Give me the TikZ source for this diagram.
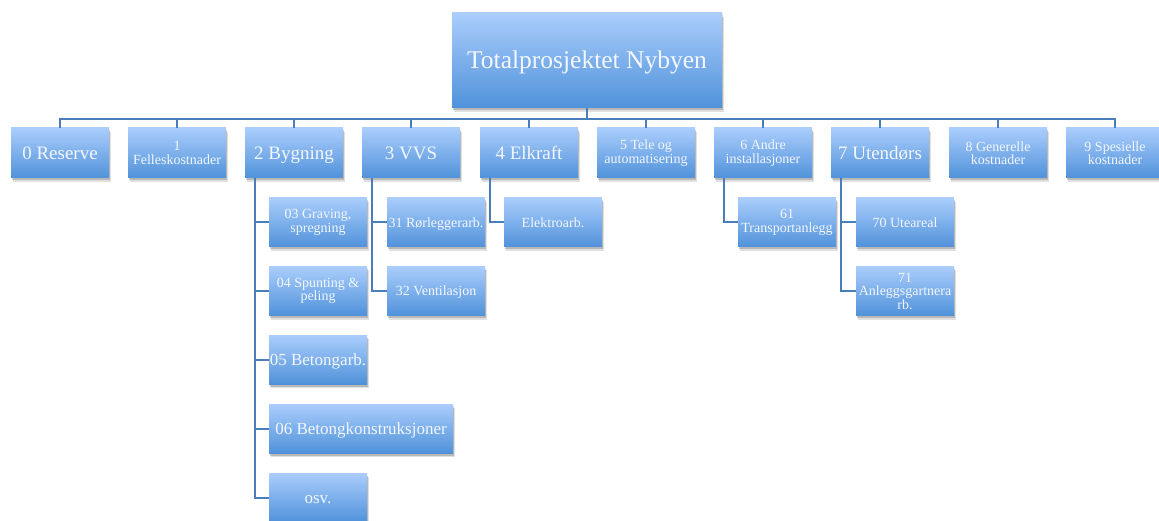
\documentclass[tikz,border=0pt]{standalone}
\usepackage{fontspec}
\setmainfont{Liberation Serif}
\usetikzlibrary{shadows}
\definecolor{topc}{RGB}{170,205,252}
\definecolor{botc}{RGB}{80,146,218}
\definecolor{linec}{RGB}{74,126,187}
\definecolor{txt}{RGB}{243,247,255}
\begin{document}
\begin{tikzpicture}[x=1pt,y=-1pt,
  box/.style={rectangle, top color=topc, bottom color=botc, draw=none, text=txt,
    align=center, inner sep=0pt, minimum height=50pt, minimum width=98pt,
    drop shadow={shadow xshift=1.5pt, shadow yshift=-4pt, opacity=0.12, fill=black},
    drop shadow={shadow xshift=1pt, shadow yshift=-2.5pt, opacity=0.18, fill=black}},
  kid/.style={box, minimum height=49pt},
  big/.style={font=\fontsize{19}{20}\selectfont, text height=16.5pt, text depth=4pt},
  small/.style={font=\fontsize{14}{13.5}\selectfont},
  smallone/.style={small, text height=12.3pt, text depth=3pt},
  mid/.style={font=\fontsize{17}{18}\selectfont, text height=14.8pt, text depth=3.5pt},
  conn/.style={draw=linec, line width=2pt}]
\useasboundingbox (0,0) rectangle (1159,521);
\coordinate (bus) at (0,119);

\node[box, minimum width=270pt, minimum height=95pt, font=\fontsize{25.5}{27}\selectfont, text height=22.8pt, text depth=6pt] (top) at (587,60.5) {Totalprosjektet Nybyen};

\node[box, big]   (n0) at (60,153)   {0 Reserve};
\node[box, small] (n1) at (177,153)  {1\\Felleskostnader};
\node[box, big]   (n2) at (294,153)  {2 Bygning};
\node[box, big]   (n3) at (411,153)  {3 VVS};
\node[box, big]   (n4) at (529,153)  {4 Elkraft};
\node[box, small] (n5) at (646,153)  {5 Tele og\\automatisering};
\node[box, small] (n6) at (763,153)  {6 Andre\\installasjoner};
\node[box, big]   (n7) at (880,153)  {7 Utendørs};
\node[box, small] (n8) at (998,153)  {8 Generelle\\kostnader};
\node[box, small] (n9) at (1115,153) {9 Spesielle\\kostnader};

\node[kid, small] (c03) at (318,222.5) {03 Graving,\\spregning};
\node[kid, small] (c04) at (318,291)   {04 Spunting \&\\peling};
\node[kid, mid]   (c05) at (318,359.5) {05 Betongarb.};
\node[kid, mid, minimum width=184pt] (c06) at (361,428.5) {06 Betongkonstruksjoner};
\node[kid, mid]   (c07) at (318,497.5) {osv.};

\node[kid, smallone] (c31) at (436,222.5) {31 Rørleggerarb.};
\node[kid, smallone] (c32) at (436,291)   {32 Ventilasjon};

\node[kid, smallone] (c41) at (553,222.5) {Elektroarb.};

\node[kid, small] (c61) at (787,222.5) {61\\Transportanlegg};

\node[kid, smallone] (c70) at (905,222.5) {70 Uteareal};
\node[kid, small] (c71) at (905,291)   {71\\Anleggsgartnera\\rb.};

\foreach \n in {n0,n1,n2,n3,n4,n5,n6,n7,n8,n9}{
  \draw[conn] (top.south) -- (top.south |- bus) -| (\n.north);
}
\foreach \p/\c in {n2/c03,n2/c04,n2/c05,n2/c06,n2/c07,n3/c31,n3/c32,n4/c41,n6/c61,n7/c70,n7/c71}{
  \draw[conn] ([xshift=10pt]\p.south west) |- (\c.west);
}
\end{tikzpicture}
\end{document}
